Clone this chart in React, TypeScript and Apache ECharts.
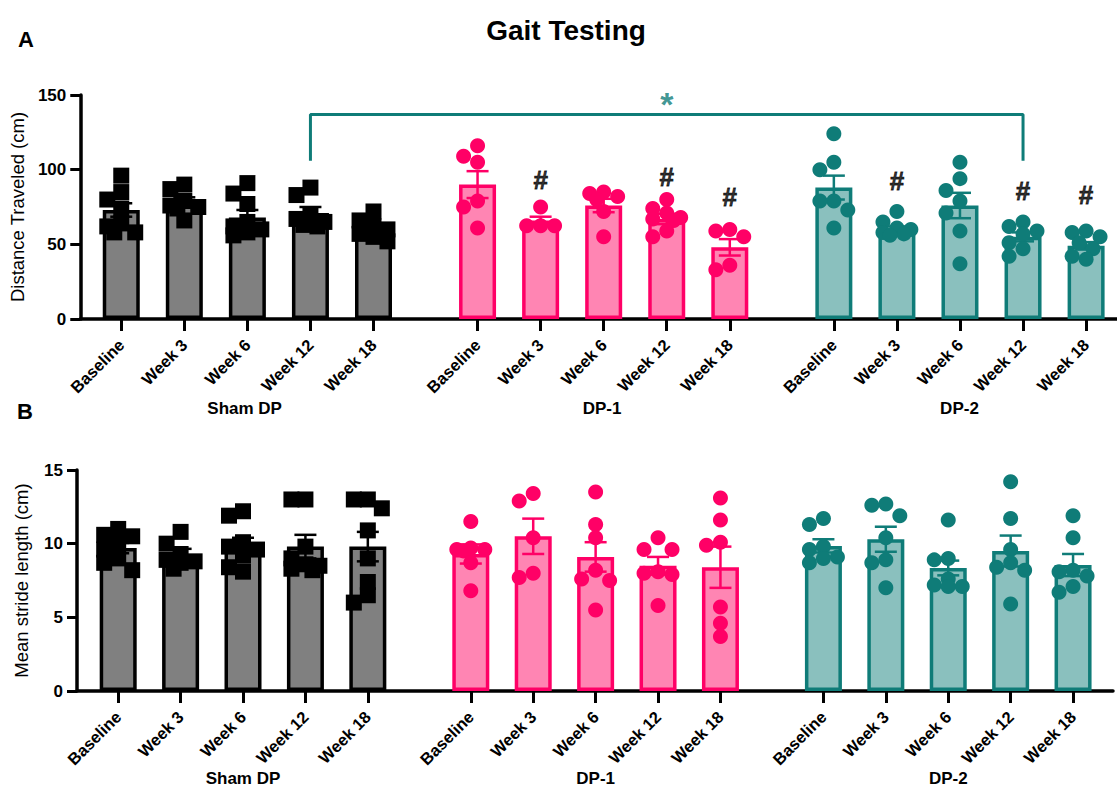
import React, { useEffect, useRef } from "react";
import * as echarts from "echarts";

const timepoints = ["Baseline", "Week 3", "Week 6", "Week 12", "Week 18"];
const groups = ["Sham DP", "DP-1", "DP-2"];

// Panel A — Distance traveled (cm)
const shamDistMean = [73, 78, 68, 71, 60];
const shamDistSem = [4.5, 3.5, 5, 4, 3];
const dp1DistMean = [90, 66, 76, 67, 48];
const dp1DistSem = [9, 2.5, 4.5, 3.5, 5.5];
const dp2DistMean = [88, 60, 76, 55, 49];
const dp2DistSem = [8, 2, 8.5, 3, 2.5];

const shamDistPts = [
  [96, 85, 80, 74, 64, 62, 58, 58],
  [90, 87, 79, 76, 75, 74, 66],
  [91, 84, 77, 65, 62, 60, 58, 56],
  [88, 83, 69, 67, 65, 63, 62],
  [72, 66, 62, 60, 57, 55, 52],
];
const dp1DistPts = [
  [116, 109, 105, 79, 75, 61],
  [75, 62.5, 62.5, 62.5],
  [85, 84, 82, 80, 72, 55],
  [80, 74, 71, 68, 67, 66, 59, 55],
  [60, 59, 55, 36, 33],
];
const dp2DistPts = [
  [124, 105, 100, 79, 79, 73, 61],
  [72, 65, 61, 60, 58, 57, 56],
  [105, 94, 86, 79, 71, 59, 37],
  [65, 62, 59, 57, 51, 47, 42],
  [59, 58, 55, 51, 47, 42, 40],
];

// Panel B — Mean stride length (cm)
const shamStrideMean = [9.7, 9.3, 9.9, 9.8, 9.8];
const shamStrideSem = [0.35, 0.35, 0.5, 0.8, 1.0];
const dp1StrideMean = [9.3, 10.5, 9.1, 8.5, 8.4];
const dp1StrideSem = [0.65, 1.2, 1.0, 0.6, 1.4];
const dp2StrideMean = [9.85, 10.3, 8.35, 9.5, 8.55];
const dp2StrideSem = [0.45, 0.85, 0.5, 1.05, 0.75];

const shamStridePts = [
  [11.0, 10.6, 10.5, 10.2, 9.6, 9.0, 8.7, 8.2],
  [10.8, 10.0, 9.3, 8.9, 8.8, 8.7, 8.3],
  [12.2, 11.9, 10.1, 9.8, 9.6, 9.2, 8.4, 8.1],
  [13.0, 13.0, 9.8, 9.0, 8.6, 8.5, 8.3, 8.2],
  [13.0, 13.0, 12.4, 10.9, 9.0, 7.4, 6.5, 6.0],
];
const dp1StridePts = [
  [11.5, 9.7, 9.6, 9.6, 9.5, 8.7, 6.8],
  [13.4, 12.9, 10.4, 8.0, 7.7],
  [13.5, 11.3, 10.4, 8.2, 7.6, 7.5, 5.5],
  [10.4, 9.6, 9.6, 8.1, 8.0, 7.9, 5.8],
  [13.1, 11.6, 10.1, 9.9, 5.7, 4.6, 3.7],
];
const dp2StridePts = [
  [11.7, 11.3, 9.8, 9.6, 9.1, 9.0, 8.7],
  [12.7, 12.6, 11.9, 10.4, 8.9, 8.7, 7.0],
  [11.6, 9.0, 8.9, 7.6, 7.2, 7.1, 7.1],
  [14.2, 11.7, 9.6, 8.7, 8.4, 8.2, 5.9],
  [11.9, 10.4, 8.2, 8.1, 7.8, 7.1, 6.7],
];

// Significance annotations (panel A): "#" vs baseline, "*" bracket Sham W12 vs DP-2 W12
const hashMarks = [
  { group: 1, time: 1, y: 93 },
  { group: 1, time: 3, y: 95 },
  { group: 1, time: 4, y: 81.5 },
  { group: 2, time: 1, y: 92.5 },
  { group: 2, time: 3, y: 86 },
  { group: 2, time: 4, y: 83 },
];
const bracket = { from: [0, 3], to: [2, 3], top: 137, foot: 106, starY: 144 };

const GROUP_GAP = 5.65;
const FONT = "'Liberation Sans', Arial, Helvetica, sans-serif";
const strokeColors = ["#000000", "#FF0066", "#0F7C78"];
const fillColors = ["#808080", "#FF85B3", "#8AC0BE"];
const symbols = ["rect", "circle", "circle"];

const xPos = (g: number, t: number) => g * GROUP_GAP + t;
const tickValues: number[] = [];
groups.forEach((_, g) => timepoints.forEach((_, t) => tickValues.push(xPos(g, t))));
const labelFor = (v: number) => {
  for (let g = 0; g < groups.length; g++)
    for (let t = 0; t < timepoints.length; t++)
      if (Math.abs(v - xPos(g, t)) < 1e-6) return timepoints[t];
  return "";
};

// simple deterministic beeswarm-style spreading of points
function swarm(values: number[], pxPerX: number, pxPerY: number, size: number) {
  const step = 14 / pxPerX;
  const cands = [0, -1, 1, -0.5, 0.5].map((c) => c * step);
  const placed: { dx: number; v: number }[] = [];
  return values.map((v) => {
    let best = cands[0];
    let bestD = -1;
    for (const c of cands) {
      let minD = Infinity;
      for (const p of placed) {
        const d = Math.hypot((c - p.dx) * pxPerX, (v - p.v) * pxPerY);
        if (d < minD) minD = d;
      }
      if (minD >= size * 0.8) {
        best = c;
        bestD = Infinity;
        break;
      }
      if (minD > bestD) {
        bestD = minD;
        best = c;
      }
    }
    placed.push({ dx: best, v });
    return best;
  });
}

type Panel = {
  means: number[][];
  sems: number[][];
  pts: number[][][];
  yMax: number;
  yInterval: number;
  yName: string;
  grid: { left: number; top: number; width: number; height: number };
  xMin: number;
  xMax: number;
  groupLabelY: number;
};

const panels: Panel[] = [
  {
    means: [shamDistMean, dp1DistMean, dp2DistMean],
    sems: [shamDistSem, dp1DistSem, dp2DistSem],
    pts: [shamDistPts, dp1DistPts, dp2DistPts],
    yMax: 150,
    yInterval: 50,
    yName: "Distance Traveled (cm)",
    grid: { left: 77, top: 95, width: 1040, height: 224 },
    xMin: -0.65,
    xMax: 15.79,
    groupLabelY: 408,
  },
  {
    means: [shamStrideMean, dp1StrideMean, dp2StrideMean],
    sems: [shamStrideSem, dp1StrideSem, dp2StrideSem],
    pts: [shamStridePts, dp1StridePts, dp2StridePts],
    yMax: 15,
    yInterval: 5,
    yName: "Mean stride length (cm)",
    grid: { left: 77, top: 470, width: 1036, height: 221 },
    xMin: -0.66,
    xMax: 15.94,
    groupLabelY: 778,
  },
];

function buildOption() {
  const grids: any[] = [];
  const xAxes: any[] = [];
  const yAxes: any[] = [];
  const series: any[] = [];

  panels.forEach((p, pi) => {
    grids.push({ ...p.grid, containLabel: false });
    xAxes.push({
      gridIndex: pi,
      type: "value",
      min: p.xMin,
      max: p.xMax,
      splitLine: { show: false },
      axisLine: { show: true, onZero: false, lineStyle: { color: "#000", width: 3.5 } },
      axisTick: {
        show: true,
        customValues: tickValues,
        length: 12,
        lineStyle: { color: "#000", width: 3 },
      },
      axisLabel: {
        show: true,
        customValues: tickValues,
        formatter: (v: number) => labelFor(v),
        rotate: 45,
        margin: 23,
        color: "#000",
        fontSize: 16.5,
        fontWeight: "bold",
        fontFamily: FONT,
      },
    });
    yAxes.push({
      gridIndex: pi,
      type: "value",
      min: 0,
      max: p.yMax,
      interval: p.yInterval,
      splitLine: { show: false },
      axisLine: { show: true, onZero: false, lineStyle: { color: "#000", width: 3.5 } },
      axisTick: { show: true, length: 10, lineStyle: { color: "#000", width: 3 } },
      axisLabel: {
        color: "#000",
        fontSize: 17,
        fontWeight: "bold",
        fontFamily: FONT,
        margin: 14,
      },
      name: p.yName,
      nameLocation: "middle",
      nameGap: 46,
      nameRotate: 90,
      nameTextStyle: { color: "#000", fontSize: 18.5, fontFamily: FONT },
    });

    const pxPerX = p.grid.width / (p.xMax - p.xMin);
    const pxPerY = p.grid.height / p.yMax;

    const barData: any[] = [];
    const errData: any[] = [];
    groups.forEach((_, g) => {
      timepoints.forEach((_, t) => {
        barData.push({
          value: [xPos(g, t), p.means[g][t]],
          itemStyle: { color: fillColors[g], borderColor: strokeColors[g], borderWidth: 3.5 },
        });
        errData.push([xPos(g, t), p.means[g][t], p.sems[g][t], g]);
      });
    });
    series.push({
      type: "bar",
      xAxisIndex: pi,
      yAxisIndex: pi,
      barWidth: 37,
      data: barData,
      z: 2,
    });
    series.push({
      type: "custom",
      xAxisIndex: pi,
      yAxisIndex: pi,
      data: errData,
      z: 3,
      renderItem: (params: any, api: any) => {
        const x = api.value(0);
        const m = api.value(1);
        const s = api.value(2);
        const g = api.value(3);
        const top = api.coord([x, m + s]);
        const bot = api.coord([x, m - s]);
        const hw = 11;
        const style = { stroke: strokeColors[g], lineWidth: 2.5 };
        return {
          type: "group",
          children: [
            { type: "line", shape: { x1: top[0], y1: top[1], x2: bot[0], y2: bot[1] }, style },
            { type: "line", shape: { x1: top[0] - hw, y1: top[1], x2: top[0] + hw, y2: top[1] }, style },
            { type: "line", shape: { x1: bot[0] - hw, y1: bot[1], x2: bot[0] + hw, y2: bot[1] }, style },
          ],
        };
      },
    });
    groups.forEach((gname, g) => {
      const data: number[][] = [];
      timepoints.forEach((_, t) => {
        const vals = p.pts[g][t];
        const offs = swarm(vals, pxPerX, pxPerY, 15);
        vals.forEach((v, i) => data.push([xPos(g, t) + offs[i], v]));
      });
      series.push({
        type: "scatter",
        name: gname,
        xAxisIndex: pi,
        yAxisIndex: pi,
        symbol: symbols[g],
        symbolSize: g === 0 ? 16 : 15,
        itemStyle: { color: strokeColors[g], opacity: 1 },
        data,
        z: 4,
      });
    });
  });

  const clear = "rgba(0,0,0,0)";
  series.push({
    type: "scatter",
    xAxisIndex: 0,
    yAxisIndex: 0,
    symbolSize: 1,
    itemStyle: { color: clear },
    data: hashMarks.map((h) => [xPos(h.group, h.time), h.y]),
    label: {
      show: true,
      position: "inside",
      formatter: "#",
      color: "#000",
      fontSize: 26,
      fontWeight: "bold",
      fontFamily: FONT,
      textBorderColor: "#000",
      textBorderWidth: 0.8,
    },
    z: 5,
  });
  const bx1 = xPos(bracket.from[0], bracket.from[1]);
  const bx2 = xPos(bracket.to[0], bracket.to[1]);
  series.push({
    type: "line",
    xAxisIndex: 0,
    yAxisIndex: 0,
    symbol: "none",
    lineStyle: { color: strokeColors[2], width: 3 },
    data: [
      [bx1, bracket.foot],
      [bx1, bracket.top],
      [bx2, bracket.top],
      [bx2, bracket.foot],
    ],
    z: 5,
  });
  series.push({
    type: "scatter",
    xAxisIndex: 0,
    yAxisIndex: 0,
    symbolSize: 1,
    itemStyle: { color: clear },
    data: [[xPos(1, 3), bracket.starY]],
    label: {
      show: true,
      position: "inside",
      formatter: "*",
      color: strokeColors[2],
      fontSize: 34,
      fontWeight: "bold",
      fontFamily: FONT,
    },
    z: 5,
  });

  const textStyle = (fs: number) => ({
    fill: "#000",
    font: `bold ${fs}px ${FONT}`,
    textAlign: "center",
    textVerticalAlign: "middle",
  });
  const graphic: any[] = [
    { type: "text", x: 566, y: 30, style: { text: "Gait Testing", ...textStyle(28) } },
    { type: "text", x: 26, y: 39, style: { text: "A", ...textStyle(22) } },
    { type: "text", x: 25, y: 411, style: { text: "B", ...textStyle(22) } },
  ];
  panels.forEach((p) => {
    const pxPerX = p.grid.width / (p.xMax - p.xMin);
    groups.forEach((gname, g) => {
      const cx = p.grid.left + (xPos(g, 2) - p.xMin) * pxPerX;
      graphic.push({
        type: "text",
        x: cx,
        y: p.groupLabelY,
        style: { text: gname, ...textStyle(17) },
      });
    });
  });

  return {
    animation: false,
    backgroundColor: "#fff",
    grid: grids,
    xAxis: xAxes,
    yAxis: yAxes,
    series,
    graphic,
  };
}

export default function App() {
  const ref = useRef<HTMLDivElement>(null);
  useEffect(() => {
    if (!ref.current) return;
    const chart = echarts.init(ref.current, undefined, { renderer: "svg" });
    chart.setOption(buildOption() as any);
    return () => chart.dispose();
  }, []);
  return (
    <div
      ref={ref}
      style={{ position: "absolute", left: 0, top: 0, width: 1117, height: 792, background: "#fff" }}
    />
  );
}
